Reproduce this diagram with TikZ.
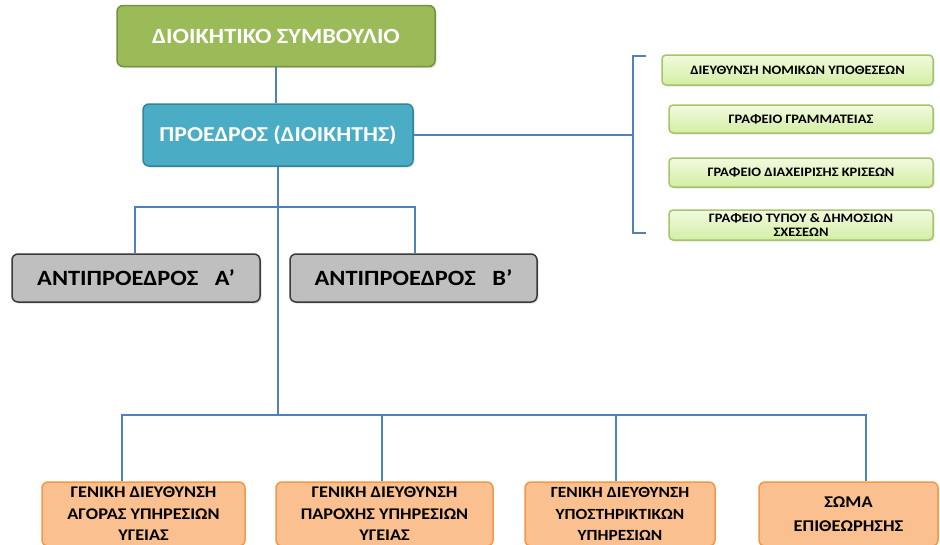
\documentclass[tikz,border=0pt]{standalone}
\usepackage{fontspec}
\setmainfont{Carlito}[FakeStretch=1.12]
\usetikzlibrary{positioning,shadows}

\definecolor{boardgreen}{HTML}{9BBB59}
\definecolor{boardedge}{HTML}{76923C}
\definecolor{presblue}{HTML}{4BACC6}
\definecolor{presedge}{HTML}{31859C}
\definecolor{vicegrey}{HTML}{BFBFBF}
\definecolor{viceedge}{HTML}{3A3A3A}
\definecolor{officetop}{HTML}{F2FADF}
\definecolor{officebot}{HTML}{D3EEA4}
\definecolor{officeedge}{HTML}{A6C46A}
\definecolor{dirorange}{HTML}{FAC090}
\definecolor{diredge}{HTML}{F79646}
\definecolor{linkblue}{HTML}{4F81BD}

\begin{document}
\begin{tikzpicture}[x=1pt, y=-1pt,
    every node/.style={rectangle, rounded corners=6pt, align=center, inner sep=0pt, line width=1.5pt},
    topbox/.style={draw=boardedge, fill=boardgreen, text=white, drop shadow={opacity=0.25, shadow xshift=1.5pt, shadow yshift=-1.5pt}},
    vicebox/.style={draw=viceedge, fill=vicegrey, minimum width=248pt, minimum height=48pt, font=\bfseries\fontsize{21.8}{24}\selectfont, drop shadow={opacity=0.25, shadow xshift=1.5pt, shadow yshift=-1.5pt}},
    officebox/.style={draw=officeedge, top color=officetop, bottom color=officebot, rounded corners=4pt, font=\bfseries\fontsize{12.9}{13.5}\selectfont, drop shadow={opacity=0.2, shadow xshift=1.5pt, shadow yshift=-1.5pt}},
    dirbox/.style={draw=diredge, fill=dirorange, minimum height=64pt, font=\bfseries\fontsize{16.3}{21.5}\selectfont},
    link/.style={draw=linkblue, line width=2.4pt}]
    \clip (0,0) rectangle (940,544);
    \fill[white] (0,0) rectangle (940,544);

    % top of the chart
    \node[topbox, minimum width=318pt, minimum height=61pt, font=\bfseries\fontsize{21.7}{26}\selectfont] (board) at (276,36) {ΔΙΟΙΚΗΤΙΚΟ ΣΥΜΒΟΥΛΙΟ};
    \node[topbox, draw=presedge, fill=presblue, minimum width=270pt, minimum height=62pt, font=\bfseries\fontsize{21.2}{25}\selectfont] (pres) at (278,135) {ΠΡΟΕΔΡΟΣ (ΔΙΟΙΚΗΤΗΣ)};

    % vice presidents
    \node[vicebox] (viceA) at (136,278) {ΑΝΤΙΠΡΟΕΔΡΟΣ~~~Α’};
    \node[vicebox, minimum width=247pt] (viceB) at (413.5,278) {ΑΝΤΙΠΡΟΕΔΡΟΣ~~~Β’};

    % offices
    \node[officebox, minimum width=271pt, minimum height=30pt] (legal) at (797.5,70) {ΔΙΕΥΘΥΝΣΗ ΝΟΜΙΚΩΝ ΥΠΟΘΕΣΕΩΝ};
    \node[officebox, minimum width=264pt, minimum height=28pt] (secr) at (801,119) {ΓΡΑΦΕΙΟ ΓΡΑΜΜΑΤΕΙΑΣ};
    \node[officebox, minimum width=264pt, minimum height=29pt] (crisis) at (801,172.5) {ΓΡΑΦΕΙΟ ΔΙΑΧΕΙΡΙΣΗΣ ΚΡΙΣΕΩΝ};
    \node[officebox, minimum width=264pt, minimum height=30pt] (press) at (801,225) {ΓΡΑΦΕΙΟ ΤΥΠΟΥ \& ΔΗΜΟΣΙΩΝ\\ΣΧΕΣΕΩΝ};

    % general directorates
    \node[dirbox, minimum width=203pt] (dirA) at (143.5,514) {ΓΕΝΙΚΗ ΔΙΕΥΘΥΝΣΗ\\ΑΓΟΡΑΣ ΥΠΗΡΕΣΙΩΝ\\ΥΓΕΙΑΣ};
    \node[dirbox, minimum width=217pt] (dirB) at (384.5,514) {ΓΕΝΙΚΗ ΔΙΕΥΘΥΝΣΗ\\ΠΑΡΟΧΗΣ ΥΠΗΡΕΣΙΩΝ\\ΥΓΕΙΑΣ};
    \node[dirbox, minimum width=190pt, font=\bfseries\fontsize{15.5}{21.5}\selectfont] (dirC) at (620,514) {ΓΕΝΙΚΗ ΔΙΕΥΘΥΝΣΗ\\ΥΠΟΣΤΗΡΙΚΤΙΚΩΝ\\ΥΠΗΡΕΣΙΩΝ};
    \node[dirbox, minimum width=179pt, font=\bfseries\fontsize{16.4}{24}\selectfont] (insp) at (848.5,514) {ΣΩΜΑ\\ΕΠΙΘΕΩΡΗΣΗΣ};

    % junction points
    \coordinate (vleft) at (135,207);
    \coordinate (vright) at (415,207);
    \coordinate (busmid) at (278,415);
    \coordinate (bleft) at (122,415);
    \coordinate (bB) at (382,415);
    \coordinate (bC) at (616,415);
    \coordinate (bright) at (866,415);
    \coordinate (brtop) at (646,56);
    \coordinate (brmid) at (633,135);
    \coordinate (brbot) at (646,233);

    \draw[link] (board.south) -- (board.south |- pres.north);
    \draw[link] (pres.south) -- (busmid);
    \draw[link] (vleft |- viceA.north) -- (vleft) -- (vright) -- (vright |- viceB.north);
    \draw[link] (bleft |- dirA.north) -- (bleft) -- (bright) -- (bright |- insp.north);
    \draw[link] (bB) -- (bB |- dirB.north);
    \draw[link] (bC) -- (bC |- dirC.north);
    \draw[link] (pres.east) -- (brmid);
    \draw[link] (brtop) -| (brmid) |- (brbot);
\end{tikzpicture}
\end{document}
